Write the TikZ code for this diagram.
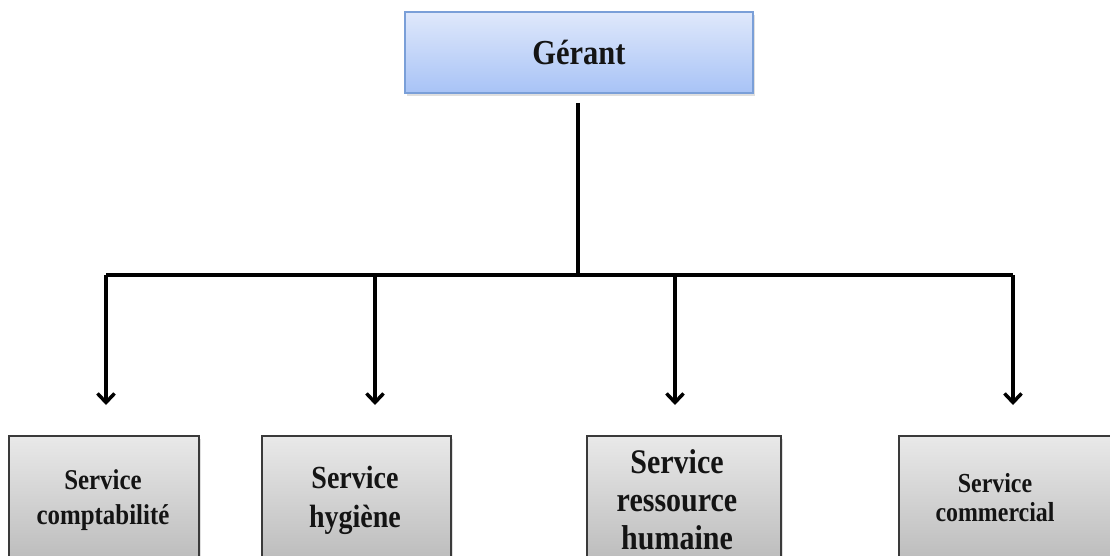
\documentclass[tikz,border=0pt]{standalone}
\usepackage{fontspec}
\setmainfont{Liberation Serif}
\usetikzlibrary{arrows.meta,shadows}
\definecolor{gtop}{HTML}{DFE8FB}
\definecolor{gbot}{HTML}{A8C3F6}
\definecolor{gborder}{HTML}{7A9FD8}
\definecolor{stop}{HTML}{E9E9E9}
\definecolor{sbot}{HTML}{BBBBBB}
\definecolor{sborder}{HTML}{3A3A3A}
\definecolor{txt}{HTML}{141414}
\tikzset{
  headbox/.style={draw=gborder, line width=2pt, top color=gtop, bottom color=gbot,
    minimum width=348pt, minimum height=81pt, inner sep=0pt,
    drop shadow={shadow xshift=2pt, shadow yshift=-3pt, opacity=0.25}},
  servbox/.style={draw=sborder, line width=2.5pt, top color=stop, bottom color=sbot,
    minimum height=128pt, inner sep=0pt,
    drop shadow={shadow xshift=2pt, shadow yshift=-3pt, opacity=0.25}},
  lab/.style={text=txt, align=center, inner sep=0pt, yscale=1.15, transform shape},
  link/.style={line width=3.5pt, draw=black},
  arr/.style={link, -{Straight Barb[length=9pt,width=17pt]}}
}
\begin{document}
\begin{tikzpicture}[x=1pt,y=1pt]
\useasboundingbox (0,0) rectangle (1110,555);
\clip (0,0) rectangle (1110,555);
% head
\node[headbox] (g) at (579,502.5) {};
\node[lab, font=\fontsize{30.5}{34}\selectfont\bfseries] (gt) at (579,502.5) {Gérant};
% services
\node[servbox, minimum width=190pt] (b1) at (104,55) {};
\node[servbox, minimum width=189pt] (b2) at (356.5,55) {};
\node[servbox, minimum width=194pt] (b3) at (684,55) {};
\node[servbox, minimum width=240pt] (b4) at (1019,55) {};
\node[lab, font=\fontsize{24.9}{30.4}\selectfont\bfseries] (t1) at (103,55) {Service\\comptabilité};
\node[lab, font=\fontsize{28}{33.9}\selectfont\bfseries] (t2) at (355,55) {Service\\hygiène};
\node[lab, font=\fontsize{30}{33}\selectfont\bfseries] (t3) at (677,55) {Service\\ressource\\humaine};
\node[lab, font=\fontsize{23.9}{25.2}\selectfont\bfseries] (t4) at (995,57) {Service\\commercial};
% connectors
\coordinate (top) at (578,452);
\coordinate (j) at (578,280);
\coordinate (h1) at (106,280);
\coordinate (h2) at (375,280);
\coordinate (h3) at (675,280);
\coordinate (h4) at (1013,280);
\coordinate (a1) at (106,150);
\coordinate (a2) at (375,150);
\coordinate (a3) at (675,150);
\coordinate (a4) at (1013,150);
\draw[link] (top) -- (j);
\draw[link] (h1) -- (h4);
\draw[arr] (h1) -- (a1);
\draw[arr] (h2) -- (a2);
\draw[arr] (h3) -- (a3);
\draw[arr] (h4) -- (a4);
\end{tikzpicture}
\end{document}
